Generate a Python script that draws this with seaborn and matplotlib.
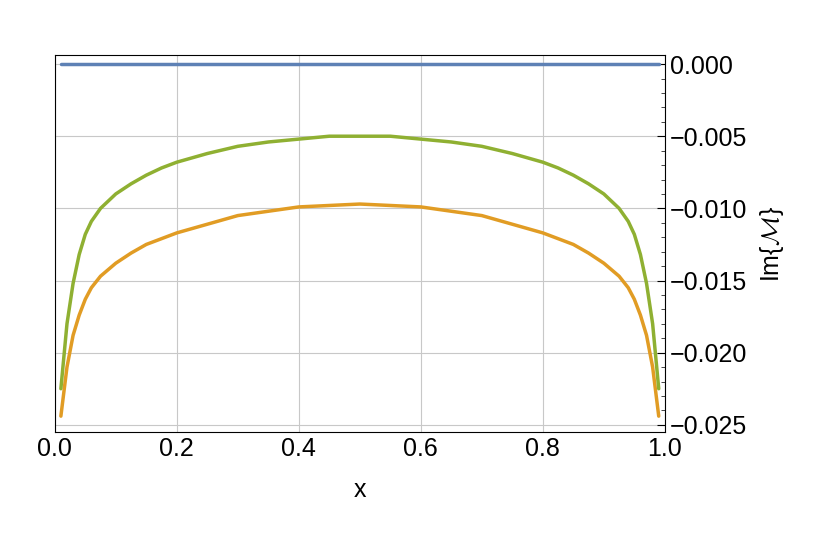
import pandas as pd
import matplotlib
matplotlib.use("Agg")
import matplotlib.pyplot as plt
import seaborn as sns
from matplotlib.ticker import MultipleLocator

# values (symmetric about x = 0.5)
x_half = [0.01, 0.02, 0.03, 0.04, 0.05, 0.06, 0.075, 0.1, 0.125, 0.15, 0.175, 0.2,
          0.25, 0.3, 0.35, 0.4, 0.45, 0.5]
green_half = [-0.0225, -0.0180, -0.0152, -0.0132, -0.0118, -0.0109, -0.0100, -0.0090,
              -0.0083, -0.0077, -0.0072, -0.0068, -0.0062, -0.0057, -0.0054, -0.0052,
              -0.0050, -0.0050]
orange_half = [-0.0244, -0.0210, -0.0188, -0.0174, -0.0163, -0.0155, -0.0147, -0.0138,
               -0.0131, -0.0125, -0.0121, -0.0117, -0.0111, -0.0105, -0.0102, -0.0099,
               -0.0098, -0.0097]

x_vals = x_half + [1 - v for v in x_half[-2::-1]]
green = green_half + green_half[-2::-1]
orange = orange_half + orange_half[-2::-1]
blue = [0.0] * len(x_vals)

df = pd.DataFrame({
    "x": x_vals * 3,
    "value": blue + orange + green,
    "series": ["blue"] * len(x_vals) + ["orange"] * len(x_vals) + ["green"] * len(x_vals),
})

palette = {"blue": "#5E81B5", "orange": "#E19C24", "green": "#8FB032"}

sns.set_style("white")
plt.rcParams["font.family"] = "Liberation Sans"
plt.rcParams["mathtext.fontset"] = "cm"
fig = plt.figure(figsize=(8.3, 5.38), dpi=100)
ax = fig.add_axes([0.066, 0.197, 0.735, 0.70])
sns.lineplot(data=df, x="x", y="value", hue="series", palette=palette,
             linewidth=2.5, legend=False, ax=ax)

ax.set_xlim(0, 1)
ax.set_ylim(-0.0255, 0.0006)
ax.yaxis.tick_right()
ax.yaxis.set_label_position("right")
ax.xaxis.set_major_locator(MultipleLocator(0.2))
ax.xaxis.set_minor_locator(MultipleLocator(0.04))
ax.yaxis.set_major_locator(MultipleLocator(0.005))
ax.yaxis.set_minor_locator(MultipleLocator(0.001))
ax.xaxis.set_major_formatter(matplotlib.ticker.FormatStrFormatter("%.1f"))
ax.yaxis.set_major_formatter(matplotlib.ticker.FuncFormatter(
    lambda v, p: f"{v:.3f}".replace("-", "\u2212") if abs(v) > 1e-9 else "0.000"))
ax.tick_params(axis="both", which="major", labelsize=18, direction="in", length=6,
               width=0.8, colors="black")
ax.tick_params(axis="both", which="minor", direction="in", length=3, width=0.6)
ax.tick_params(axis="x", which="both", top=False)
ax.tick_params(axis="y", which="both", left=False)
ax.grid(True, which="major", color="#c8c8c8", linewidth=0.8)
for s in ax.spines.values():
    s.set_linewidth(0.8)
    s.set_color("black")
ax.set_xlabel("x", fontsize=18, labelpad=12, color="black")
ax.set_ylabel(r"Im{$\mathcal{M}$}", fontsize=18, labelpad=8, color="black")

fig.savefig("out.png", dpi=100)
